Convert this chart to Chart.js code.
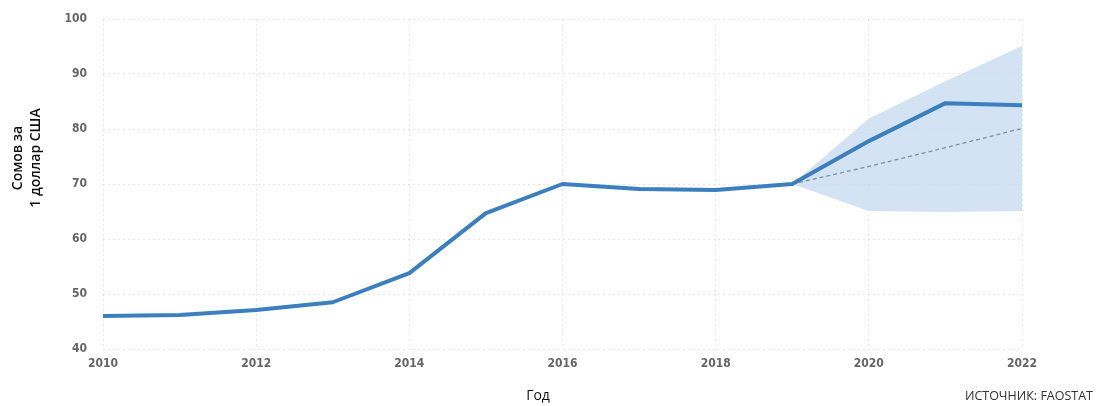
<!DOCTYPE html>
<html>
<head>
<meta charset="utf-8">
<script src="https://cdn.jsdelivr.net/npm/chart.js"></script>
<style>
  html, body { margin: 0; padding: 0; background: #fff; overflow: hidden; }
  canvas { display: block; }
</style>
</head>
<body>
<canvas id="chart" width="1097" height="406"></canvas>
<script>
// exchange rate, som per 1 USD
const years = [2010, 2011, 2012, 2013, 2014, 2015, 2016, 2017, 2018, 2019, 2020, 2021, 2022];
const rate = [46.0, 46.2, 47.1, 48.5, 53.8, 64.7, 70.0, 69.1, 68.9, 70.0, 77.8, 84.7, 84.3];

// forecast band + trend (from 2019)
const forecastYears = [2019, 2020, 2021, 2022];
const upperBand = [70.0, 81.9, 88.7, 95.1];
const lowerBand = [70.0, 65.1, 64.9, 65.1];
const trend = [70.0, 73.2, 76.6, 80.1];

const yTicks = [40, 50, 60, 70, 80, 90, 100];
const xTicks = [2010, 2012, 2014, 2016, 2018, 2020, 2022];

const pts = (xs, ys) => xs.map((x, i) => ({ x: x, y: ys[i] }));

const textPlugin = {
  id: 'texts',
  afterDraw(chart) {
    const ctx = chart.ctx;
    ctx.save();
    ctx.fillStyle = '#111';
    ctx.font = '600 14px "Open Sans"';
    ctx.textAlign = 'center';
    ctx.textBaseline = 'middle';
    ctx.translate(27, 158);
    ctx.rotate(-Math.PI / 2);
    ctx.fillText('Сомов за', 0, -9);
    ctx.fillText('1 доллар США', 0, 9);
    ctx.restore();

    ctx.save();
    ctx.fillStyle = '#111';
    ctx.font = '14px "Open Sans"';
    ctx.textAlign = 'center';
    ctx.textBaseline = 'middle';
    ctx.fillText('Год', 538, 396);
    ctx.fillStyle = '#333';
    ctx.font = '12.5px "Open Sans"';
    ctx.textAlign = 'right';
    ctx.fillText('ИСТОЧНИК: FAOSTAT', 1093, 396);
    ctx.restore();
  }
};

const gridStyle = {
  color: 'rgba(0,0,0,0.09)',
  lineWidth: 1,
  drawTicks: false
};

new Chart(document.getElementById('chart'), {
  type: 'line',
  data: {
    datasets: [
      {
        data: pts(years, rate),
        borderColor: '#3b7fbf',
        borderWidth: 4,
        pointRadius: 0,
        fill: false,
        tension: 0,
        borderCapStyle: 'round',
        borderJoinStyle: 'round'
      },
      {
        data: pts(forecastYears, trend),
        borderColor: '#7f90a4',
        borderWidth: 1.3,
        borderDash: [4, 3],
        pointRadius: 0,
        fill: false
      },
      {
        data: pts(forecastYears, upperBand),
        borderWidth: 0,
        pointRadius: 0,
        backgroundColor: 'rgba(198,218,239,0.75)',
        fill: '+1',
        tension: 0
      },
      {
        data: pts(forecastYears, lowerBand),
        borderWidth: 0,
        pointRadius: 0,
        fill: false,
        tension: 0
      }
    ]
  },
  options: {
    responsive: false,
    animation: false,
    layout: { padding: { left: 0, right: 75, top: 19, bottom: 0 } },
    plugins: { legend: { display: false }, tooltip: { enabled: false } },
    scales: {
      x: {
        type: 'linear',
        min: 2010,
        max: 2022,
        border: { display: false, dash: [2, 3] },
        grid: gridStyle,
        afterBuildTicks: s => { s.ticks = xTicks.map(v => ({ value: v })); },
        afterFit: s => { s.height = 57; s.paddingLeft = 0; s.paddingRight = 0; },
        ticks: {
          padding: 8,
          maxRotation: 0,
          color: '#666',
          font: { family: '"DejaVu Sans Condensed"', weight: 'bold', size: 12 },
          callback: v => String(v)
        }
      },
      y: {
        min: 40,
        max: 100,
        border: { display: false, dash: [2, 3] },
        grid: gridStyle,
        afterBuildTicks: s => { s.ticks = yTicks.map(v => ({ value: v })); },
        afterFit: s => { s.width = 103; s.paddingTop = 0; s.paddingBottom = 0; },
        ticks: {
          padding: 16,
          color: '#666',
          font: { family: '"DejaVu Sans Condensed"', weight: 'bold', size: 12 }
        }
      }
    }
  },
  plugins: [textPlugin]
});
</script>
</body>
</html>
